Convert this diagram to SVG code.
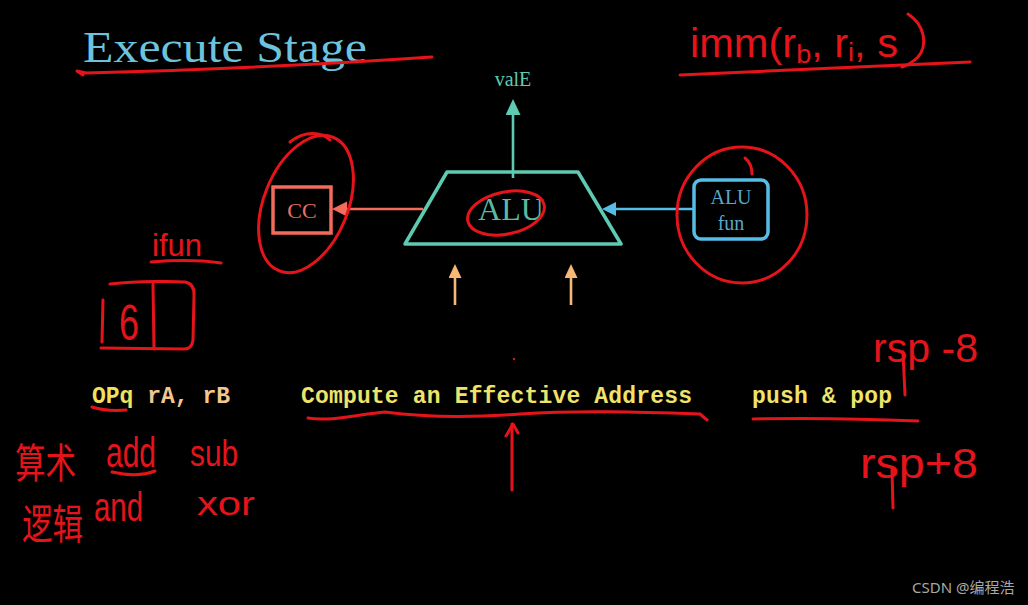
<svg xmlns="http://www.w3.org/2000/svg" width="1028" height="605" viewBox="0 0 1028 605">
<style>
.serif{font-family:"Liberation Serif","DejaVu Serif",serif}
.mono{font-family:"Liberation Mono","DejaVu Sans Mono",monospace;font-size:23px;font-weight:bold}
.hand{font-family:"Liberation Sans Narrow","Liberation Sans","DejaVu Sans",sans-serif;fill:#e5141b}
.cjk{font-family:"Noto Sans CJK SC",sans-serif;fill:#e5141b}
.ink{fill:none;stroke:#e5141b;stroke-width:3;stroke-linecap:round;stroke-linejoin:round}
.conn{fill:none;stroke-width:2.6}
</style>
<defs>
<marker id="hTeal" markerUnits="userSpaceOnUse" markerWidth="18" markerHeight="16" refX="0" refY="7.5" orient="auto"><path d="M0,0 L16,7.5 L0,15 z" fill="#5ecab2"/></marker>
<marker id="hSalmon" markerUnits="userSpaceOnUse" markerWidth="18" markerHeight="16" refX="0" refY="7.5" orient="auto"><path d="M0,0 L15,7.5 L0,15 z" fill="#f26b5b"/></marker>
<marker id="hBlue" markerUnits="userSpaceOnUse" markerWidth="18" markerHeight="16" refX="0" refY="7" orient="auto"><path d="M0,0 L14,7 L0,14 z" fill="#56bde6"/></marker>
<marker id="hOrange" markerUnits="userSpaceOnUse" markerWidth="18" markerHeight="16" refX="0" refY="6.5" orient="auto"><path d="M0,0 L14,6.5 L0,13 z" fill="#f7b777"/></marker>
</defs>
<rect width="1028" height="605" fill="#000"/>

<g id="title">
<text class="serif" x="83" y="62" font-size="45" fill="#6ec3dc" textLength="284" lengthAdjust="spacingAndGlyphs">Execute Stage</text>
</g>

<g id="connectors">
<line class="conn" x1="513" y1="178" x2="513" y2="115" stroke="#5ecab2" marker-end="url(#hTeal)"/>
<line class="conn" x1="423" y1="209" x2="347" y2="209" stroke="#f26b5b" marker-end="url(#hSalmon)"/>
<line class="conn" x1="694" y1="209" x2="616" y2="209" stroke="#56bde6" marker-end="url(#hBlue)"/>
<line class="conn" x1="455" y1="305" x2="455" y2="278" stroke="#f7b777" marker-end="url(#hOrange)"/>
<line class="conn" x1="571" y1="305" x2="571" y2="278" stroke="#f7b777" marker-end="url(#hOrange)"/>
</g>

<g id="valE">
<text class="serif" x="513" y="86" font-size="20" fill="#5ecab2" text-anchor="middle">valE</text>
</g>

<g id="alu">
<path d="M447,172 L578,172 L621,244 L405,244 Z" fill="none" stroke="#5ecab2" stroke-width="3.5" stroke-linejoin="round"/>
<text class="serif" x="511" y="220" font-size="32" fill="#5cb8a2" text-anchor="middle">ALU</text>
</g>

<g id="cc">
<rect x="273" y="187" width="58" height="46" fill="none" stroke="#f26b5b" stroke-width="3.5"/>
<text class="serif" x="302" y="218" font-size="22" fill="#e9705f" text-anchor="middle">CC</text>
</g>

<g id="alufun">
<rect x="694" y="180" width="74" height="59" rx="7" fill="none" stroke="#56bde6" stroke-width="3.5"/>
<text class="serif" x="731" y="204" font-size="20" fill="#56a9c9" text-anchor="middle">ALU</text>
<text class="serif" x="731" y="230" font-size="20" fill="#56a9c9" text-anchor="middle">fun</text>
</g>

<g id="captions">
<text class="mono" x="92" y="403"><tspan fill="#f0e25e">OPq</tspan><tspan fill="#f3c78f"> rA, rB</tspan></text>
<text class="mono" x="301" y="403" fill="#efe36a" textLength="391">Compute an Effective Address</text>
<text class="mono" x="752" y="403" fill="#efe36a" textLength="140">push &amp; pop</text>
</g>

<g id="annotations">
<path class="ink" d="M83,75 L77,71 L86,73 C200,70 330,64 432,57"/>
<text class="hand" x="690" y="57" font-size="40" textLength="208" lengthAdjust="spacingAndGlyphs">imm(r<tspan font-size="26" dy="6">b</tspan><tspan dy="-6">, r</tspan><tspan font-size="26" dy="4">i</tspan><tspan dy="-4">, s</tspan></text>
<path class="ink" d="M908,14 C925,25 928,45 918,57 C912,63 905,66 902,67"/>
<path class="ink" d="M680,75 C780,70 880,66 970,62"/>

<ellipse class="ink" cx="306" cy="204" rx="42" ry="72" transform="rotate(22 306 204)"/>
<path class="ink" d="M290,142 C305,130 322,132 330,140"/>
<ellipse class="ink" cx="506" cy="213" rx="39" ry="21" transform="rotate(-12 506 213)"/>
<ellipse class="ink" cx="742" cy="215" rx="65" ry="68"/>
<path class="ink" d="M745,158 C750,162 752,168 752,174"/>

<text class="hand" x="152" y="256" font-size="32" textLength="50" lengthAdjust="spacingAndGlyphs">ifun</text>
<path class="ink" d="M151,262 C175,260 200,260 221,263"/>
<path class="ink" d="M110,284 C140,281 175,281 185,282 Q195,284 194,296 L193,340 Q192,349 184,349 L101,348"/>
<path class="ink" d="M103,300 L102,342"/>
<path class="ink" d="M153,284 L154,349"/>
<text class="hand" x="119" y="340" font-size="50" textLength="20" lengthAdjust="spacingAndGlyphs">6</text>

<path class="ink" d="M92,407 C105,411 115,411 126,410"/>
<text class="cjk" transform="scale(0.9,1.22)" font-size="34" x="16.7" y="391.8">算术</text>
<text class="cjk" transform="scale(0.9,1.22)" font-size="34" x="24.4" y="441.8">逻辑</text>
<text class="hand" x="106" y="467" font-size="42" textLength="50" lengthAdjust="spacingAndGlyphs">add</text>
<path class="ink" d="M112,472 C130,476 145,475 155,471"/>
<text class="hand" x="190" y="466" font-size="36" textLength="48" lengthAdjust="spacingAndGlyphs">sub</text>
<text class="hand" x="94" y="521" font-size="40" textLength="49" lengthAdjust="spacingAndGlyphs">and</text>
<text class="hand" x="197" y="515" font-size="34" textLength="58" lengthAdjust="spacingAndGlyphs">xor</text>

<circle cx="514" cy="359" r="1.2" fill="#e5141b"/>
<path class="ink" d="M308,418 C330,422 360,414 385,412 C430,418 480,417 520,414 C580,410 640,412 700,414 L707,420"/>
<path class="ink" d="M512,490 L512,424"/>
<path class="ink" d="M506,436 L513,424 L518,433"/>

<path class="ink" d="M753,419 C800,418 870,419 918,421"/>
<text class="hand" x="873" y="362" font-size="40" textLength="105" lengthAdjust="spacingAndGlyphs">rsp -8</text>
<path class="ink" d="M903,352 L905,395"/>
<text class="hand" x="860" y="478" font-size="42" textLength="118" lengthAdjust="spacingAndGlyphs">rsp+8</text>
<path class="ink" d="M892,470 L893,508"/>
</g>

<g id="watermark">
<text x="912" y="593" font-family="'Noto Sans','Noto Sans CJK SC',sans-serif" font-size="15" fill="#a8a8a8">CSDN @编程浩</text>
</g>
</svg>
